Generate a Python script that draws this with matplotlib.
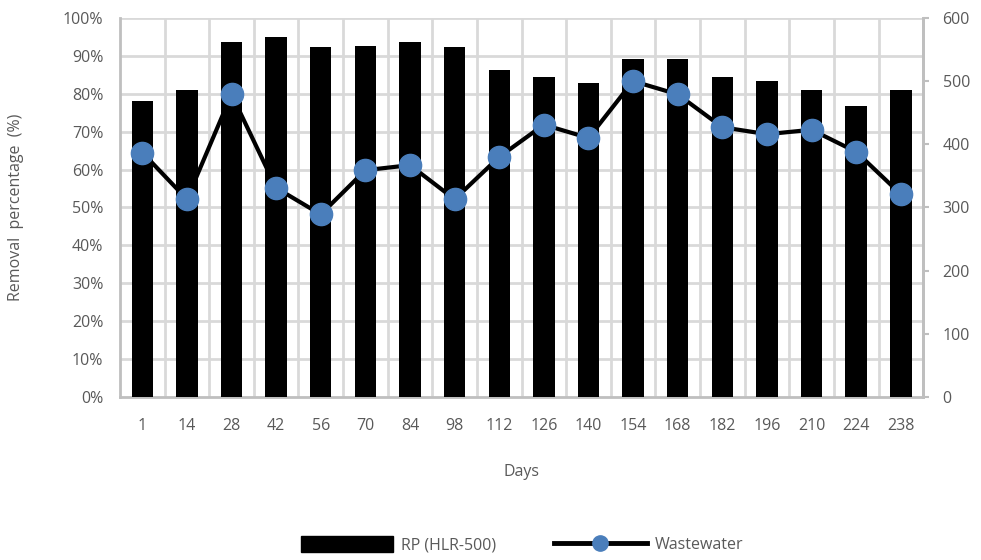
import numpy as np
import matplotlib
matplotlib.use("Agg")
import matplotlib.pyplot as plt
from matplotlib.ticker import PercentFormatter
from matplotlib.lines import Line2D
from matplotlib.patches import Patch

plt.rcParams["font.family"] = ["Open Sans", "DejaVu Sans"]

# ── data ──────────────────────────────────────────────
days = ["1", "14", "28", "42", "56", "70", "84", "98", "112", "126",
        "140", "154", "168", "182", "196", "210", "224", "238"]
removal_pct = [78, 81, 93.7, 95, 92.2, 92.6, 93.7, 92.2, 86.3, 84.5,
               82.8, 89.1, 89.1, 84.5, 83.4, 81, 76.8, 81]
wastewater = [387, 313, 479, 331, 289, 359, 367, 313, 380, 431,
              410, 500, 479, 427, 416, 423, 388, 321]

TXT = "#595959"
GRID = "#D9D9D9"
BLUE = "#4A7EBB"
FS = 11.5

fig = plt.figure(figsize=(9.81, 5.6), dpi=100)
ax = fig.add_axes([0.1223, 0.291, 0.8187, 0.677])
x = np.arange(len(days))

ax.bar(x, removal_pct, width=0.48, color="black", zorder=3)
ax.set_xlim(-0.5, len(days) - 0.5)
ax.set_ylim(0, 100)
ax.set_yticks(np.arange(0, 101, 10))
ax.yaxis.set_major_formatter(PercentFormatter(decimals=0))
ax.set_xticks(x)
ax.set_xticklabels(days)

# grid: horizontal at 10 %, vertical at category boundaries
for yv in np.arange(10, 101, 10):
    ax.axhline(yv, color=GRID, lw=2, zorder=1)
for xb in np.arange(0.5, len(days) - 0.5, 1):
    ax.axvline(xb, color=GRID, lw=2, zorder=1)

ax.tick_params(axis="both", length=0, colors=TXT, labelsize=FS)
ax.tick_params(axis="y", pad=12)
ax.tick_params(axis="x", pad=15)
for s in ["left", "bottom", "right"]:
    ax.spines[s].set_color("#BFBFBF")
    ax.spines[s].set_linewidth(2)
ax.spines["top"].set_visible(False)

ax.set_ylabel("Removal  percentage  (%)", color=TXT, fontsize=FS, labelpad=28)
ax.set_xlabel("Days", color=TXT, fontsize=FS, labelpad=22)

ax2 = ax.twinx()
ax2.plot(x, wastewater, color="black", lw=3, marker="o", markersize=16,
         markerfacecolor=BLUE, markeredgecolor=BLUE, zorder=4)
ax2.set_ylim(0, 600)
ax2.set_yticks(np.arange(0, 601, 100))
ax2.tick_params(axis="y", length=4, width=1.5, color="#BFBFBF", labelcolor=TXT,
                labelsize=FS, pad=10)
for s in ["left", "bottom", "top"]:
    ax2.spines[s].set_visible(False)
ax2.spines["right"].set_color("#BFBFBF")
ax2.spines["right"].set_linewidth(2)

handles = [
    Patch(facecolor="black", edgecolor="black"),
    Line2D([0], [0], color="black", lw=3.5, marker="o", markersize=11,
           markerfacecolor=BLUE, markeredgecolor=BLUE),
]
leg = fig.legend(handles, ["RP (HLR-500)", "Wastewater"], loc="center",
                 bbox_to_anchor=(0.532, 0.027), ncol=2, frameon=False,
                 handlelength=5.8, handleheight=1.1, columnspacing=3.6,
                 handletextpad=0.5, fontsize=FS)
for t in leg.get_texts():
    t.set_color(TXT)

fig.savefig("out.png", dpi=100)
